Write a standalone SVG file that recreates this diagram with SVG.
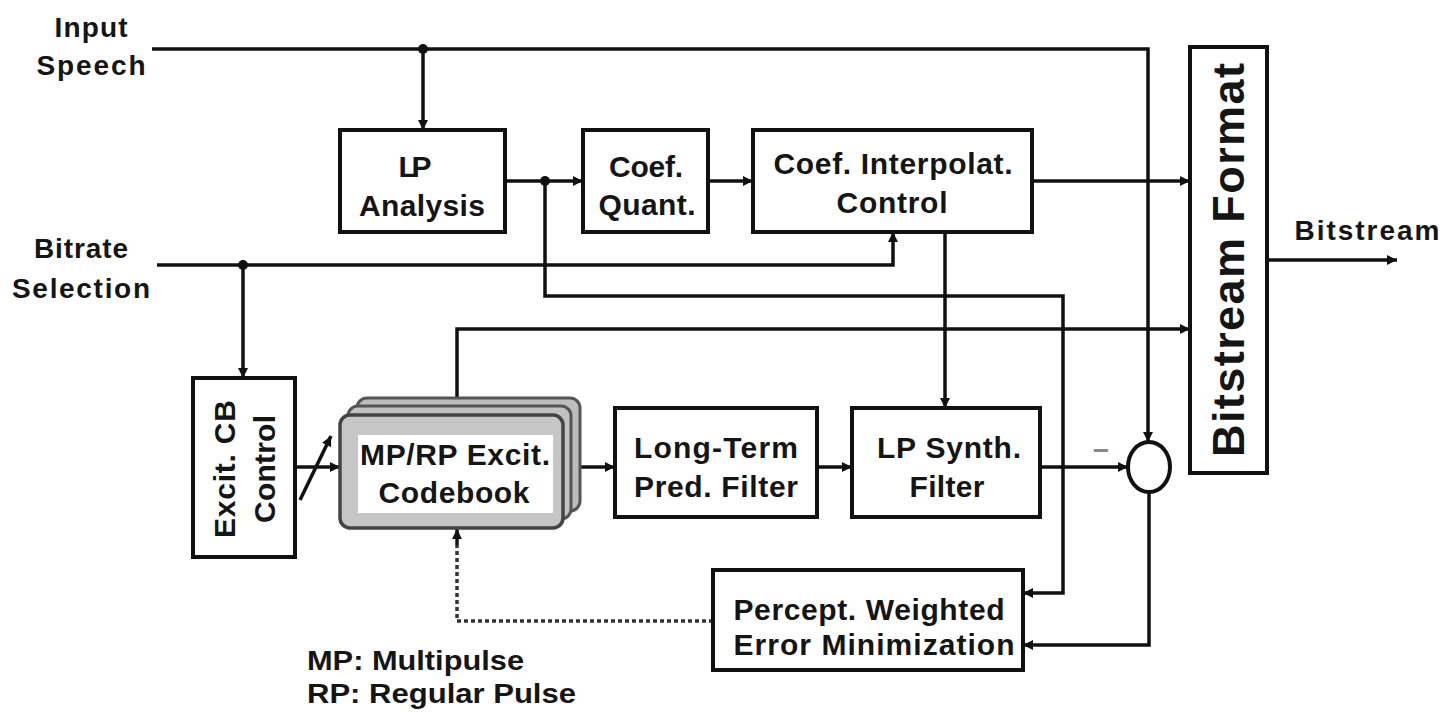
<svg xmlns="http://www.w3.org/2000/svg" width="1452" height="723" viewBox="0 0 1452 723">
<style>
.box{fill:#fff;stroke:#111;stroke-width:4}
.t{font-family:"Liberation Sans",Arial,sans-serif;font-weight:bold;font-size:30px;fill:#151515;text-anchor:middle}
.lbl{font-family:"Liberation Sans",Arial,sans-serif;font-weight:bold;font-size:28px;fill:#151515;text-anchor:middle}
.leg{font-family:"Liberation Sans",Arial,sans-serif;font-weight:bold;font-size:27px;fill:#151515}
.w{fill:none;stroke:#111;stroke-width:3.5}
.a{marker-end:url(#ah)}
.d{fill:none;stroke:#333;stroke-width:3.5;stroke-dasharray:4 3}
.dot{fill:#111}
</style>
<defs>
<marker id="ah" viewBox="0 0 10 10" refX="10" refY="5" markerWidth="11" markerHeight="10" markerUnits="userSpaceOnUse" orient="auto">
<path d="M0,0 L10,5 L0,10 z" fill="#111"/>
</marker>
</defs>
<rect width="1452" height="723" fill="#fff"/>

<g id="labels">
<text class="lbl" x="91" y="37" textLength="73" lengthAdjust="spacing">Input</text>
<text class="lbl" x="91" y="75" textLength="109" lengthAdjust="spacing">Speech</text>
<text class="lbl" x="81" y="258" textLength="94" lengthAdjust="spacing">Bitrate</text>
<text class="lbl" x="81" y="298" textLength="138" lengthAdjust="spacing">Selection</text>
<text class="lbl" x="1367" y="240" textLength="145" lengthAdjust="spacing">Bitstream</text>
<text class="leg" x="307" y="670" textLength="217" lengthAdjust="spacingAndGlyphs">MP: Multipulse</text>
<text class="leg" x="307" y="703" textLength="269" lengthAdjust="spacingAndGlyphs">RP: Regular Pulse</text>
<text class="lbl" x="1101" y="460" style="fill:#888">−</text>
</g>

<g id="connectors">
<polyline class="w a" points="152,49 1148,49 1148,442"/>
<polyline class="w a" points="423,49 423,130"/>
<circle class="dot" cx="423" cy="49" r="5"/>
<polyline class="w a" points="505,181 583,181"/>
<circle class="dot" cx="545" cy="181" r="5"/>
<polyline class="w a" points="545,181 545,296 1063,296 1063,593 1023,593"/>
<polyline class="w a" points="708,181 753,181"/>
<polyline class="w a" points="1032,181 1190,181"/>
<polyline class="w a" points="157,265 893,265 893,232"/>
<circle class="dot" cx="243" cy="265" r="5"/>
<polyline class="w a" points="243,265 243,378"/>
<polyline class="w a" points="945,232 945,408"/>
<polyline class="w a" points="295,467 340,467"/>
<line class="w a" x1="300" y1="500" x2="331" y2="436"/>
<polyline class="w a" points="457,415 457,329 1190,329"/>
<polyline class="w a" points="580,467 615,467"/>
<polyline class="w a" points="817,467 852,467"/>
<polyline class="w a" points="1040,467 1128,467"/>
<polyline class="w a" points="1149,492 1149,645 1023,645"/>
<polyline class="d" points="713,621 457,621 457,545"/>
<polyline class="w a" points="457,545 457,529"/>
<polyline class="w a" points="1267,260 1397,260"/>
</g>

<g id="lp-analysis">
<rect class="box" x="340" y="130" width="165" height="102"/>
<text class="t" x="415" y="177" textLength="33" lengthAdjust="spacing">LP</text>
<text class="t" x="422" y="216" textLength="126" lengthAdjust="spacing">Analysis</text>
</g>

<g id="coef-quant">
<rect class="box" x="583" y="130" width="125" height="102"/>
<text class="t" x="646" y="177" textLength="74" lengthAdjust="spacing">Coef.</text>
<text class="t" x="647" y="215" textLength="97" lengthAdjust="spacing">Quant.</text>
</g>

<g id="coef-interp">
<rect class="box" x="753" y="130" width="279" height="102"/>
<text class="t" x="893" y="174" textLength="239" lengthAdjust="spacing">Coef. Interpolat.</text>
<text class="t" x="892" y="213" textLength="111" lengthAdjust="spacing">Control</text>
</g>

<g id="bitstream-format">
<rect class="box" x="1190" y="47" width="77" height="426"/>
<text class="t" transform="translate(1244,260) rotate(-90)" x="0" y="0" style="font-size:45px" textLength="394" lengthAdjust="spacing">Bitstream Format</text>
</g>

<g id="excit-cb-control">
<rect class="box" x="193" y="378" width="102" height="179"/>
<text class="t" transform="translate(235,469) rotate(-90)" x="0" y="0" textLength="138" lengthAdjust="spacing">Excit. CB</text>
<text class="t" transform="translate(275,469) rotate(-90)" x="0" y="0" textLength="108" lengthAdjust="spacing">Control</text>
</g>

<g id="codebook">
<rect x="357" y="398" width="223" height="113" rx="10" fill="#bdbdbd" stroke="#555" stroke-width="3"/>
<rect x="348" y="406" width="223" height="113" rx="10" fill="#c2c2c2" stroke="#555" stroke-width="3"/>
<rect x="340" y="415" width="223" height="113" rx="10" fill="#c6c6c6" stroke="#444" stroke-width="3.5"/>
<rect x="358" y="435" width="195" height="78" fill="#fff"/>
<text class="t" x="455" y="465" textLength="190" lengthAdjust="spacing">MP/RP Excit.</text>
<text class="t" x="454" y="503" textLength="151" lengthAdjust="spacing">Codebook</text>
</g>

<g id="long-term">
<rect class="box" x="615" y="408" width="202" height="109"/>
<text class="t" x="716" y="458" textLength="164" lengthAdjust="spacing">Long-Term</text>
<text class="t" x="716" y="497" textLength="164" lengthAdjust="spacing">Pred. Filter</text>
</g>

<g id="lp-synth">
<rect class="box" x="852" y="408" width="188" height="109"/>
<text class="t" x="949" y="458" textLength="144" lengthAdjust="spacing">LP Synth.</text>
<text class="t" x="947" y="497" textLength="75" lengthAdjust="spacing">Filter</text>
</g>

<g id="sum">
<ellipse cx="1149" cy="467" rx="21" ry="25" fill="#fff" stroke="#111" stroke-width="4"/>
</g>

<g id="percept">
<rect class="box" x="713" y="570" width="310" height="100"/>
<text class="t" x="869" y="620" textLength="271" lengthAdjust="spacing">Percept. Weighted</text>
<text class="t" x="874" y="655" textLength="281" lengthAdjust="spacing">Error Minimization</text>
</g>
</svg>
